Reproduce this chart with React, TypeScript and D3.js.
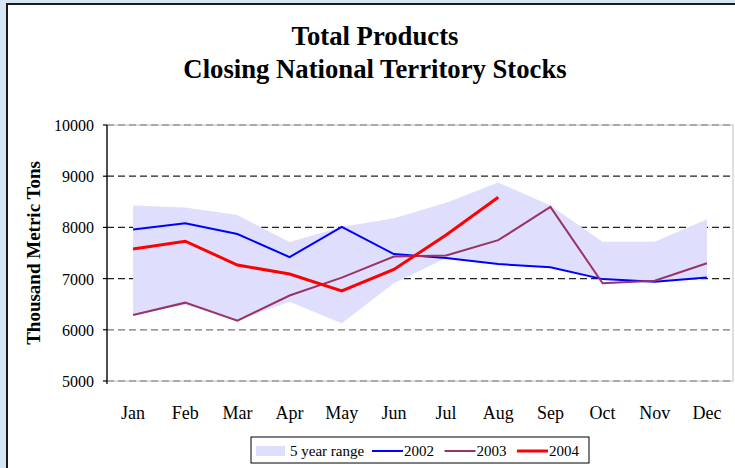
import React from "react";
import * as d3 from "d3";

const months = ["Jan", "Feb", "Mar", "Apr", "May", "Jun", "Jul", "Aug", "Sep", "Oct", "Nov", "Dec"];
const rangeLow = [6290, 6490, 6180, 6550, 6130, 6910, 7400, 7285, 7220, 6990, 6950, 7010];
const rangeHigh = [8430, 8390, 8240, 7715, 8010, 8180, 8480, 8875, 8430, 7720, 7720, 8160];
const s2002 = [7960, 8080, 7870, 7420, 8010, 7480, 7400, 7285, 7220, 6990, 6940, 7020];
const s2003 = [6290, 6530, 6180, 6670, 7020, 7430, 7450, 7750, 8400, 6910, 6960, 7300];
const s2004 = [7580, 7730, 7265, 7090, 6760, 7180, 7850, 8590];
const yTicks = [5000, 6000, 7000, 8000, 9000, 10000];
const titleLines = ["Total Products", "Closing National Territory Stocks"];
const yLabel = "Thousand Metric Tons";

const FONT = "'Liberation Serif', 'Times New Roman', serif";

export default function App() {
  const W = 735, H = 468;
  const left = 107, right = 733, top = 125, bottom = 381;
  const x = d3.scaleBand<string>().domain(months).range([left, right]).padding(0);
  const cx = (m: string) => (x(m) as number) + x.bandwidth() / 2;
  const y = d3.scaleLinear().domain([5000, 10000]).range([bottom, top]);

  const area = d3.area<number>()
    .x((_, i) => cx(months[i]))
    .y0((_, i) => y(rangeLow[i]))
    .y1((d) => y(d));
  const line = d3.line<number>().x((_, i) => cx(months[i])).y((d) => y(d));

  const series = [
    { name: "2002", data: s2002, color: "#0000ff", width: 2 },
    { name: "2003", data: s2003, color: "#993366", width: 2 },
    { name: "2004", data: s2004, color: "#ff0000", width: 3 },
  ];

  return (
    <svg width={W} height={H} style={{ position: "absolute", left: 0, top: 0 }} fontFamily={FONT}>
      <rect x={0} y={0} width={W} height={H} fill="#d6e6f5" />
      <rect x={7} y={4} width={W} height={H} fill="#ffffff" stroke="#1a1a1a" strokeWidth={2} />
      {titleLines.map((t, i) => (
        <text key={t} x={375} y={45 + i * 33} textAnchor="middle" fontWeight="bold" fontSize={26.7} fill="#000">
          {t}
        </text>
      ))}
      <rect x={left} y={top} width={right - left} height={bottom - top} fill="none" stroke="#c0c0c0" strokeWidth={1} />
      {yTicks.map((t) => (
        <line key={t} x1={left} x2={right} y1={y(t)} y2={y(t)} stroke={t <= 6000 || t === 10000 ? "#777" : "#222"} strokeWidth={1.2} strokeDasharray="7,4" />
      ))}
      <path d={area(rangeHigh) || ""} fill="#dfdffd" stroke="none" />
      {series.map((s) => (
        <path key={s.name} d={line(s.data) || ""} fill="none" stroke={s.color} strokeWidth={s.width} strokeLinejoin="miter" />
      ))}
      <line x1={left} x2={left} y1={top} y2={bottom + 3} stroke="#000" strokeWidth={1.3} />
      {yTicks.map((t) => (
        <g key={"t" + t}>
          <line x1={left - 4} x2={left} y1={y(t)} y2={y(t)} stroke="#000" strokeWidth={1.2} />
          <text x={94} y={y(t) + 6} textAnchor="end" fontSize={16} fill="#000">{t}</text>
        </g>
      ))}
      {months.map((m) => (
        <text key={m} x={cx(m)} y={419} textAnchor="middle" fontSize={18} fill="#000">{m}</text>
      ))}
      <text transform={`translate(40,253) rotate(-90)`} textAnchor="middle" fontWeight="bold" fontSize={19} fill="#000">
        {yLabel}
      </text>
      <g>
        <rect x={251} y={437} width={338} height={26} fill="#fff" stroke="#000" strokeWidth={1} />
        <rect x={256} y={446} width={29} height={10} fill="#dfdffd" />
        <text x={290} y={456} fontSize={15} fill="#000">5 year range</text>
        {series.map((s, i) => {
          const x0 = 372 + i * 72.5;
          return (
            <g key={"l" + s.name}>
              <line x1={x0} x2={x0 + 31} y1={451} y2={451} stroke={s.color} strokeWidth={s.width} />
              <text x={x0 + 32} y={456} fontSize={15} fill="#000">{s.name}</text>
            </g>
          );
        })}
      </g>
    </svg>
  );
}
